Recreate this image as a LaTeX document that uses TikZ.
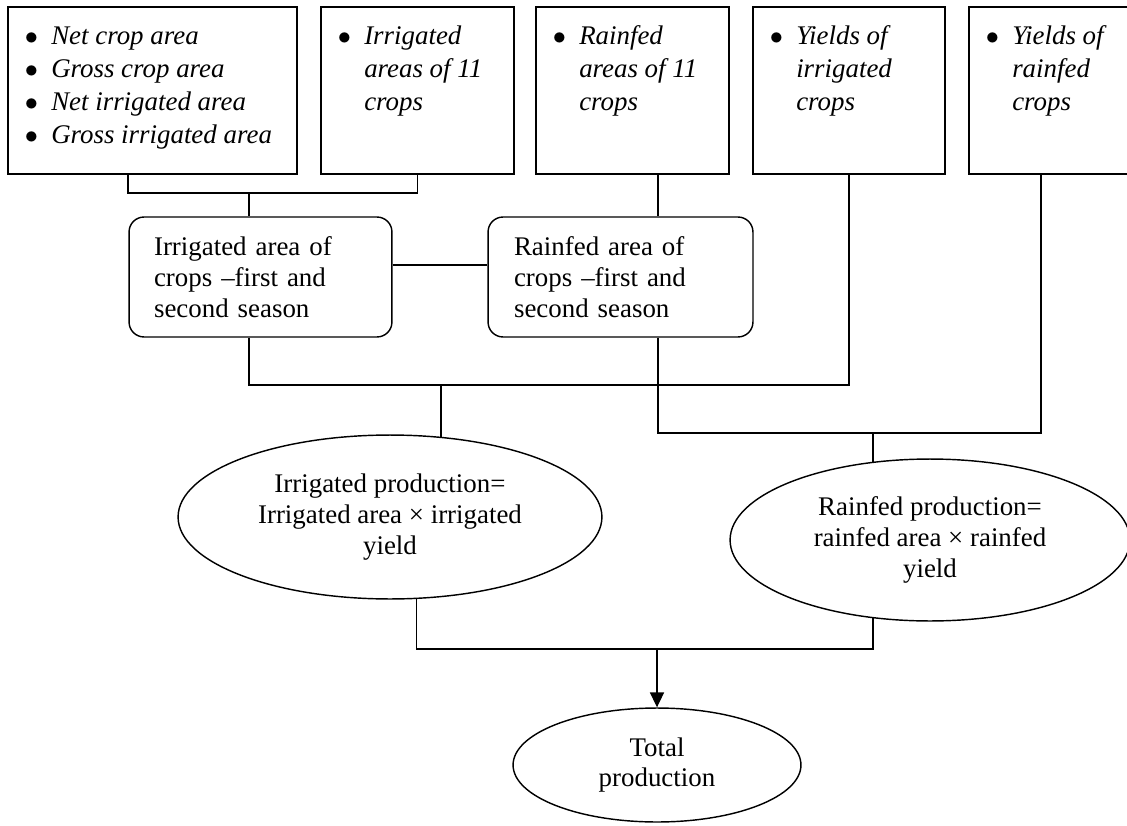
\documentclass[tikz,border=0pt]{standalone}
\usepackage{fontspec}
\setmainfont{Liberation Serif}
\usetikzlibrary{shapes.geometric, arrows.meta}
\newcommand{\diafont}{\fontsize{12.25}{14}\selectfont}
\newcommand{\blt}{$\bullet$}
\newcommand{\itemlist}[1]{\renewcommand{\arraystretch}{1.07}\begin{tabular}[t]{@{}l@{\hspace{6pt}}l@{}}#1\end{tabular}}
\newcommand{\listbox}[2]{\parbox[c][2.672cm][t]{#1}{\vspace*{0.23cm}\hspace*{0.27cm}\itemlist{#2}}}
\tikzstyle{databox} = [rectangle, draw=black, minimum height=2.672cm, inner sep=0pt, font=\diafont\itshape]
\tikzstyle{areabox} = [rectangle, rounded corners=0.24cm, draw=black, minimum width=4.208cm, minimum height=1.92cm, text width=3.408cm, inner xsep=0.4cm, align=left, font=\diafont]
\tikzstyle{prod} = [ellipse, draw=black, inner sep=0pt, align=center, font=\diafont]
\tikzstyle{line} = [line width=0.65pt, -]
\tikzstyle{arrow} = [line width=0.65pt, -{Triangle[length=6.8pt, width=6.4pt]}]

\begin{document}
\begin{tikzpicture}[x=0.016cm, y=-0.016cm, line width=0.65pt]
  \useasboundingbox (0,0) rectangle (1127,825);

  \node (netarea) [databox, minimum width=4.624cm] at (152.5,90.5) {\listbox{4.624cm}{\blt & Net crop area\\ \blt & Gross crop area\\ \blt & Net irrigated area\\ \blt & Gross irrigated area}};
  \node (irrcrops) [databox, minimum width=3.088cm] at (417.5,90.5) {\listbox{3.088cm}{\blt & Irrigated\\ & areas of 11\\ & crops}};
  \node (rfcrops) [databox, minimum width=3.088cm] at (632.5,90.5) {\listbox{3.088cm}{\blt & Rainfed\\ & areas of 11\\ & crops}};
  \node (irryield) [databox, minimum width=3.072cm] at (849,90.5) {\listbox{3.072cm}{\blt & Yields of\\ & irrigated\\ & crops}};
  \node (rfyield) [databox, minimum width=3.088cm] at (1065.5,90.5) {\listbox{3.088cm}{\blt & Yields of\\ & rainfed\\ & crops}};

  \node (irrarea) [areabox] at (260.5,277) {Irrigated area of\\crops --first and\\second season};
  \node (rfarea) [areabox, minimum width=4.24cm] at (620.5,277) {Rainfed area of\\crops --first and\\second season};

  \node (irrprod) [prod, minimum width=6.784cm, minimum height=2.624cm] at (390,517) {Irrigated production=\\Irrigated area × irrigated\\yield};
  \node (rfprod) [prod, minimum width=6.4cm, minimum height=2.592cm] at (930,540) {Rainfed production=\\rainfed area × rainfed\\yield};
  \node (total) [prod, minimum width=4.608cm, minimum height=1.824cm] at (657,765) {Total\\production};

  % junctions and drop lines
  \coordinate (j1) at (249,193);
  \coordinate (j2) at (441,385);
  \coordinate (j3) at (873,433);
  \coordinate (j4) at (657,649);
  \coordinate (x1) at (128,265);
  \coordinate (x2) at (658,265);
  \coordinate (x3) at (1041,265);

  \draw [line] (netarea.south -| x1) |- (j1) -| (irrcrops.south);
  \draw [line] (j1) -- (j1 |- irrarea.north);
  \draw [line] (rfcrops.south -| x2) -- (rfarea.north -| x2);
  \draw [line] (irrarea.east |- x2) -- (rfarea.west |- x2);
  \draw [line] (irrarea.south -| j1) |- (j2) -| (irryield.south);
  \draw [line] (j2) -- (j2 |- irrprod.57);
  \draw [line] (rfarea.south -| x2) |- (j3) -| (rfyield.south -| x3);
  \draw [line] (j3) -- (j3 |- rfprod.126);
  \draw [line] (irrprod.288) |- (j4) -| (rfprod.234);
  \draw [arrow] (j4) -- (total);

\end{tikzpicture}
\end{document}
